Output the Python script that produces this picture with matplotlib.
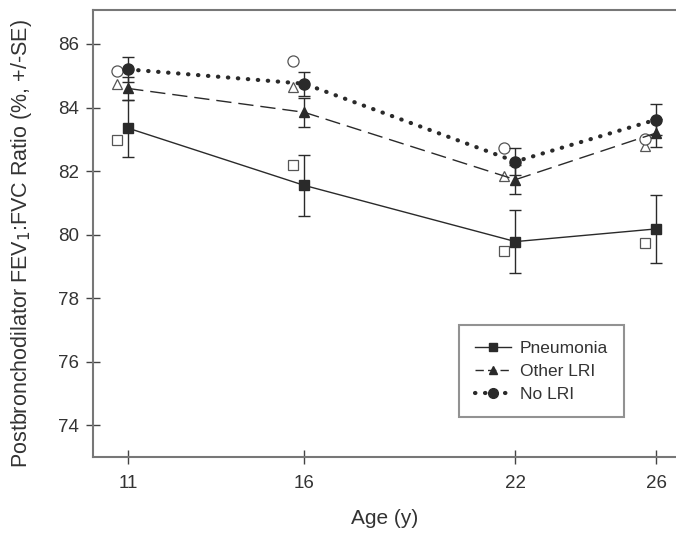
import matplotlib
matplotlib.use('Agg')
import matplotlib.pyplot as plt
from matplotlib.lines import Line2D

plt.rcParams['font.family'] = ['Liberation Sans', 'DejaVu Sans']

ages = [11, 16, 22, 26]

# adjusted means (filled markers) and SE
pneu = [83.35, 81.55, 79.78, 80.18]
pneu_se = [0.9, 0.95, 1.0, 1.06]
other = [84.6, 83.85, 81.73, 83.2]
other_se = [0.35, 0.45, 0.45, 0.45]
nolri = [85.2, 84.75, 82.3, 83.62]
nolri_se = [0.4, 0.38, 0.42, 0.48]

# unadjusted means (open markers)
pneu_raw = [82.98, 82.18, 79.48, 79.74]
other_raw = [84.74, 84.64, 81.86, 82.8]
nolri_raw = [85.14, 85.47, 82.72, 83.0]

fig = plt.figure(figsize=(6.76, 5.33), dpi=100)
ax = fig.add_axes([93/676, 76/533, 583/676, 447/533])

lc = '#2a2a2a'
dot = (0, (0.1, 2.3))
ax.errorbar(ages, pneu, yerr=pneu_se, color=lc, lw=1.0, marker='s', ms=7,
            capsize=4, elinewidth=1.0, zorder=3)
ax.errorbar(ages, other, yerr=other_se, color=lc, lw=1.0, marker='^', ms=7,
            dashes=(11, 5), capsize=4, elinewidth=1.0, zorder=3)
eb = ax.errorbar(ages, nolri, yerr=nolri_se, color=lc, lw=3.0, marker='o', ms=8,
                 linestyle=dot, capsize=4, elinewidth=1.0, zorder=3)
eb[0].set_dash_capstyle('round')

off = 0.32
xs = [a - off for a in ages]
ax.plot(xs, pneu_raw, 's', ms=7, mfc='white', mec='#555555', mew=0.9, ls='none')
ax.plot(xs, other_raw, '^', ms=7, mfc='white', mec='#555555', mew=0.9, ls='none')
ax.plot(xs, nolri_raw, 'o', ms=8, mfc='white', mec='#555555', mew=0.9, ls='none')

ax.set_xlim(10, 26.56)
ax.set_ylim(73, 87.07)
ax.set_xticks(ages)
ax.set_yticks(range(74, 87, 2))
ax.tick_params(direction='inout', length=10, width=1.0, color='#444444',
               labelsize=13.5, labelcolor='#333333')
ax.tick_params(axis='x', pad=8)
ax.tick_params(axis='y', pad=5)
for s in ['left', 'bottom', 'top']:
    ax.spines[s].set_color('#777777')
    ax.spines[s].set_linewidth(1.5)
ax.spines['right'].set_visible(False)

ax.set_xlabel('Age (y)', fontsize=15, color='#333333', labelpad=12)
ax.set_ylabel('Postbronchodilator FEV$_1$:FVC Ratio (%, +/-SE)', fontsize=15.5,
              color='#333333', labelpad=17)
ax.yaxis.label.set_y(0.477)

handles = [
    Line2D([], [], color=lc, lw=1.0, marker='s', ms=6),
    Line2D([], [], color=lc, lw=1.0, marker='^', ms=6, dashes=(6, 3)),
    Line2D([], [], color=lc, lw=3.0, marker='o', ms=7, linestyle=dot,
           dash_capstyle='round'),
]
leg = ax.legend(handles, ['Pneumonia', 'Other LRI', 'No LRI'], loc='upper left',
                bbox_to_anchor=(459/676, 1 - 325/533),
                bbox_transform=fig.transFigure, fontsize=12.5, frameon=True,
                fancybox=False, handlelength=2.1, borderpad=0.9,
                labelspacing=0.45, handletextpad=0.5, borderaxespad=0)
leg.get_frame().set_edgecolor('#777777')
leg.get_frame().set_linewidth(1.5)
for t in leg.get_texts():
    t.set_color('#333333')

fig.savefig('out.png', dpi=100)
